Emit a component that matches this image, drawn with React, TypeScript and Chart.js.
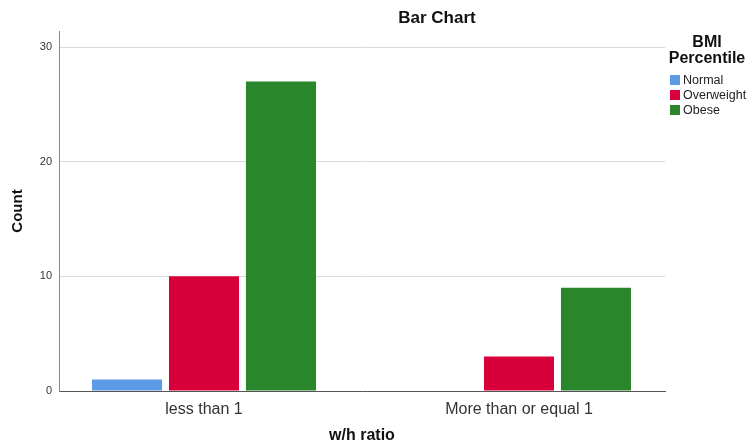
import React, { useEffect, useRef } from "react";
import { Chart, registerables } from "chart.js";

Chart.register(...registerables);

const categories = ["less than 1", "More than or equal 1"];
const seriesNames = ["Normal", "Overweight", "Obese"];
const normalValues: (number | null)[] = [1, null];
const overweightValues = [10, 3];
const obeseValues = [27, 9];
const yTicks = [0, 10, 20, 30];
const colors = ["#5A9AE6", "#D7003A", "#2A862A"];

const FONT = "'Liberation Sans', Arial, sans-serif";

const overlayPlugin = {
  id: "overlay",
  afterDraw(chart: any) {
    const ctx = chart.ctx;
    ctx.save();
    ctx.fillStyle = "#111";
    ctx.textAlign = "center";
    ctx.textBaseline = "middle";
    ctx.font = `bold 17px ${FONT}`;
    ctx.fillText("Bar Chart", 437, 18);
    ctx.font = `bold 16px ${FONT}`;
    ctx.fillText("BMI", 707, 43);
    ctx.fillText("Percentile", 707, 59);
    ctx.font = `12.5px ${FONT}`;
    ctx.textAlign = "left";
    seriesNames.forEach((name, i) => {
      const y = 80 + i * 15;
      ctx.fillStyle = colors[i];
      ctx.fillRect(670, y - 5, 10, 10);
      ctx.fillStyle = "#222";
      ctx.fillText(name, 683, y + 1);
    });
    ctx.restore();
  },
};

export default function App() {
  const ref = useRef<HTMLCanvasElement>(null);
  useEffect(() => {
    if (!ref.current) return;
    const values = [normalValues, overweightValues, obeseValues];
    const chart = new Chart(ref.current, {
      type: "bar",
      data: {
        datasets: seriesNames.map((n, i) => ({
          label: n,
          data: categories.map((_, j) => ({ x: j, y: values[i][j] })) as any,
          backgroundColor: colors[i],
          borderWidth: 0,
          barPercentage: 0.91,
          categoryPercentage: 0.733,
        })),
      },
      options: {
        animation: false,
        responsive: false,
        maintainAspectRatio: false,
        layout: { padding: { top: 31, right: 84, left: 0, bottom: 0 } },
        plugins: {
          legend: { display: false },
          title: { display: false },
          tooltip: { enabled: false },
        },
        scales: {
          x: {
            type: "linear",
            min: -0.4603,
            max: 1.4635,
            offset: false,
            grid: { display: false, drawTicks: false },
            border: { display: true, color: "#555", width: 1 },
            ticks: {
              stepSize: 1,
              includeBounds: false,
              autoSkip: false,
              color: "#333",
              font: { family: FONT, size: 16 },
              padding: 9,
              maxRotation: 0,
              callback: (v: any) => {
                const n = Number(v);
                return Number.isInteger(n) && categories[n] ? categories[n] : "";
              },
            },
            title: {
              display: true,
              text: "w/h ratio",
              color: "#111",
              font: { family: FONT, size: 16, weight: "bold" },
              padding: { top: 0, bottom: 1 },
            },
            afterFit: (s: any) => {
              s.height = 55;
            },
          },
          y: {
            min: 0,
            max: 31.4,
            grid: { color: "#d9d9d9", drawTicks: false },
            border: { display: true, color: "#888", width: 1 },
            ticks: {
              stepSize: 10,
              includeBounds: false,
              color: "#333",
              font: { family: FONT, size: 11 },
              padding: 7,
              callback: (v: any) => (yTicks.includes(Number(v)) ? String(v) : ""),
            },
            title: {
              display: true,
              text: "Count",
              color: "#111",
              font: { family: FONT, size: 15, weight: "bold" },
              padding: { top: 9, bottom: 0 },
            },
            afterFit: (s: any) => {
              s.width = 59;
            },
          },
        },
      } as any,
      plugins: [overlayPlugin],
    });
    return () => chart.destroy();
  }, []);
  return (
    <div style={{ position: "fixed", left: 0, top: 0, width: 749, height: 446, background: "#fff" }}>
      <canvas ref={ref} width={749} height={446} style={{ display: "block" }} />
    </div>
  );
}
